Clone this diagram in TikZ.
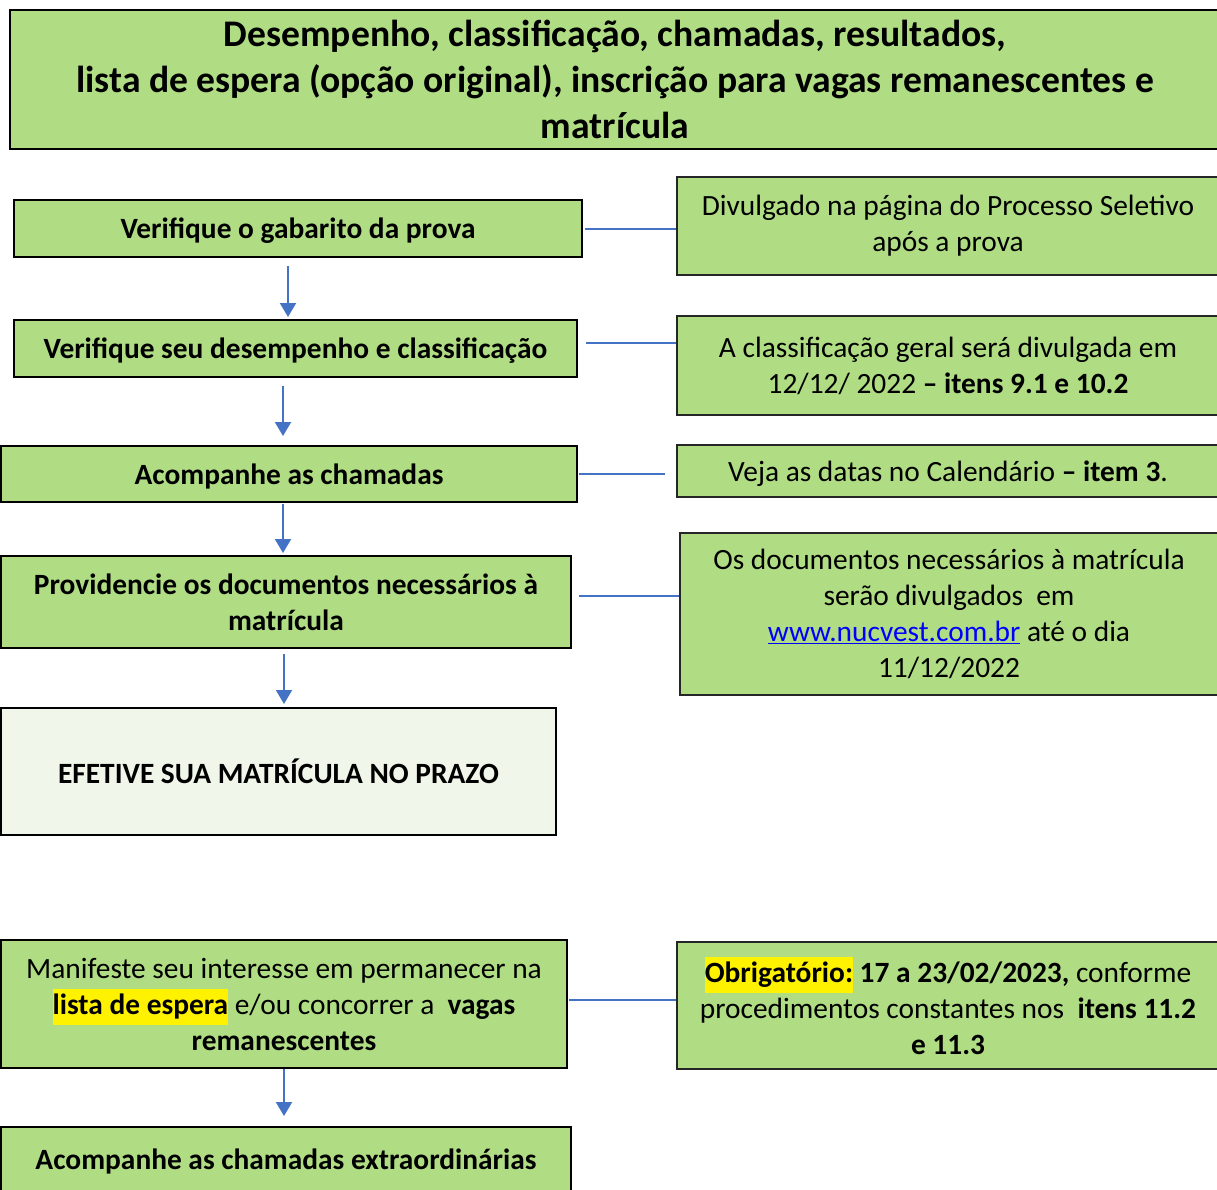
\documentclass[tikz,border=0pt]{standalone}
\usepackage{fontspec}
\setmainfont{Carlito}
\usetikzlibrary{arrows.meta}

\definecolor{boxgreen}{RGB}{176,221,132}
\definecolor{palegreen}{RGB}{240,247,234}
\definecolor{linkblue}{RGB}{68,114,196}
\newcommand{\hl}[1]{{\setlength{\fboxsep}{0pt}\colorbox{yellow}{\strut #1}}}

\begin{document}
\begin{tikzpicture}[x=1pt,y=-1pt]
    \tikzset{stepbox/.style={draw=black, line width=2pt, fill=boxgreen, inner sep=0pt, align=center,
        font=\fontsize{29.4}{36}\selectfont\bfseries}}
    \tikzset{notebox/.style={stepbox, draw=black!85, line width=1.6pt, font=\fontsize{29.4}{36}\selectfont}}
    \tikzset{oneline/.style={text depth=0pt}}
    \tikzset{link/.style={draw=linkblue, line width=2pt}}
    \tikzset{flow/.style={link, -{Triangle[width=16pt,length=14pt]}}}
    \useasboundingbox (0,0) rectangle (1217,1189);

    % heading
    \node[stepbox, line width=2.5pt, minimum width=1210pt, minimum height=139pt,
        font=\fontsize{37.6}{46}\selectfont\bfseries] (titulo) at (615,79.5)
        {Desempenho, classificação, chamadas, resultados,\\lista de espera (opção original), inscrição para vagas remanescentes e\\matrícula};

    % steps on the left
    \node[stepbox, oneline, minimum width=568pt, minimum height=57pt] (gab) at (298,228.5) {Verifique o gabarito da prova};
    \node[stepbox, oneline, minimum width=563pt, minimum height=57pt] (desemp) at (295.5,348.5) {Verifique seu desempenho e classificação};
    \node[stepbox, oneline, minimum width=576pt, minimum height=56pt] (cham) at (289,474) {Acompanhe as chamadas};
    \node[stepbox, minimum width=570pt, minimum height=92pt] (docs) at (286,602) {Providencie os documentos necessários à\\matrícula};
    \node[stepbox, fill=palegreen, minimum width=555pt, minimum height=127pt] (efet) at (278.5,771.5) {EFETIVE SUA MATRÍCULA NO PRAZO};
    \node[stepbox, font=\fontsize{29.4}{36}\selectfont, minimum width=566pt, minimum height=128pt] (manif) at (284,1004)
        {Manifeste seu interesse em permanecer na\\\hl{\textbf{lista de espera}} e/ou concorrer a\ \ \textbf{vagas}\\\textbf{remanescentes}};
    \node[stepbox, oneline, minimum width=570pt, minimum height=64pt] (extra) at (286,1159) {Acompanhe as chamadas extraordinárias};

    % notes on the right
    \node[notebox, minimum width=542pt, minimum height=98pt] (gabNote) at (948,226)
        {Divulgado na página do Processo Seletivo\\após a prova};
    \node[notebox, minimum width=542pt, minimum height=99pt] (desempNote) at (948,365.5)
        {A classificação geral será divulgada em\\12/12/ 2022 \textbf{– itens 9.1 e 10.2}};
    \node[notebox, oneline, minimum width=542pt, minimum height=52pt] (chamNote) at (948,471)
        {Veja as datas no Calendário \textbf{– item 3}.};
    \node[notebox, minimum width=538pt, minimum height=162pt] (docsNote) at (949,614)
        {Os documentos necessários à matrícula\\serão divulgados\ \ em\\\textcolor{blue}{\underline{www.nucvest.com.br}} até o dia\\11/12/2022};
    \node[notebox, minimum width=542pt, minimum height=127pt] (manifNote) at (948,1005.5)
        {\hl{\textbf{Obrigatório:}} \textbf{17 a 23/02/2023,} conforme\\procedimentos constantes nos\ \ \textbf{itens 11.2}\\\textbf{e 11.3}};

    % links to the notes
    \draw[link, shorten <=2pt] (gab.east) -- (gab.east -| gabNote.west);
    \draw[link, shorten <=8pt] ([yshift=5.5pt]desemp.east) -- ([yshift=5.5pt]desemp.east -| desempNote.west);
    \draw[link, shorten <=1pt, shorten >=11pt] (cham.east) -- (cham.east -| chamNote.west);
    \draw[link, shorten <=7pt] ([yshift=6pt]docs.east) -- ([yshift=6pt]docs.east -| docsNote.west);
    \draw[link, shorten <=1pt] ([yshift=4pt]manif.east) -- ([yshift=4pt]manif.east -| manifNote.west);

    % flow downwards
    \draw[flow, shorten <=8pt, shorten >=2pt] ([xshift=-10pt]gab.south) -- ([xshift=-10pt]gab.south |- desemp.north);
    \draw[flow, shorten <=8pt, shorten >=9pt] ([xshift=-12.5pt]desemp.south) -- ([xshift=-12.5pt]desemp.south |- cham.north);
    \draw[flow, shorten <=1pt, shorten >=2pt] ([xshift=-6pt]cham.south) -- ([xshift=-6pt]cham.south |- docs.north);
    \draw[flow, shorten <=5pt, shorten >=3pt] ([xshift=-2pt]docs.south) -- ([xshift=-2pt]docs.south |- efet.north);
    \draw[flow, shorten >=10pt] (manif.south) -- (manif.south |- extra.north);
\end{tikzpicture}
\end{document}
